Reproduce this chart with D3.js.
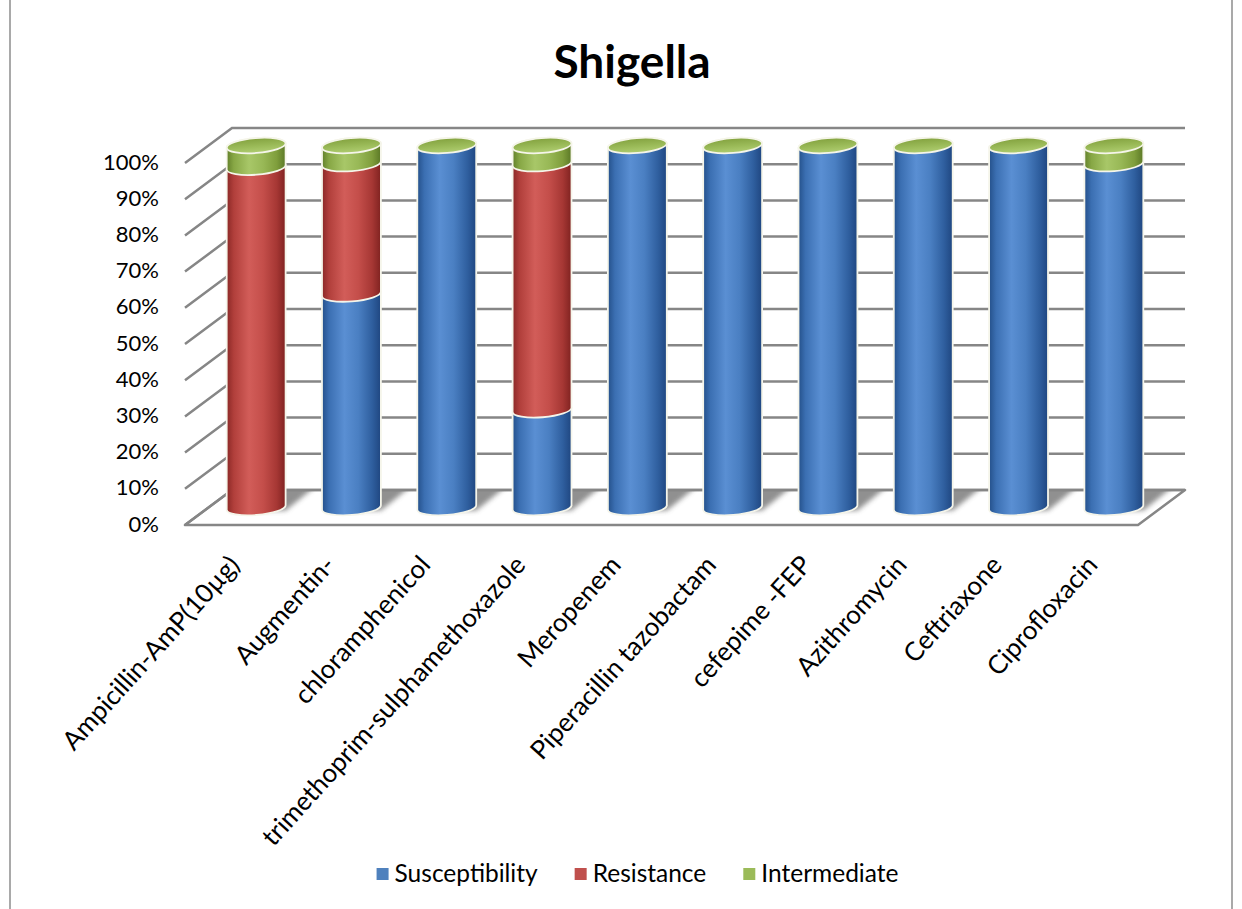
<!DOCTYPE html>
<html>
<head>
<meta charset="utf-8">
<script src="https://cdn.jsdelivr.net/npm/d3@7"></script>
<style>
  body { margin: 0; background: #fff; }
  svg { display: block; }
  text { font-family: Lato, "Open Sans", sans-serif; fill: #000; }
</style>
</head>
<body>
<svg id="chart" width="1242" height="909"></svg>
<script>
// ---- data ----
const categories = [
  "Ampicillin-AmP(10µg)", "Augmentin-", "chloramphenicol",
  "trimethoprim-sulphamethoxazole", "Meropenem", "Piperacillin tazobactam",
  "cefepime -FEP", "Azithromycin", "Ceftriaxone", "Ciprofloxacin"
];
const seriesNames = ["Susceptibility", "Resistance", "Intermediate"];
const susceptibility = [0, 59, 100, 27, 100, 100, 100, 100, 100, 95];
const resistance     = [94, 36, 0, 68, 0, 0, 0, 0, 0, 0];
const intermediate   = [6, 5, 0, 5, 0, 0, 0, 0, 0, 5];
const yTicks = [0, 10, 20, 30, 40, 50, 60, 70, 80, 90, 100];
const tickLabels = yTicks.map(v => v + "%");
const chartTitle = "Shigella";

// ---- layout ----
const W = 1242, H = 909;
const svg = d3.select("#chart");
const DX = 47, DY = -35;              // depth offset front -> back wall
const floorLeft = 185, floorRight = 1138;

const rows = categories.map((c, i) => ({
  category: c,
  Susceptibility: susceptibility[i],
  Resistance: resistance[i],
  Intermediate: intermediate[i]
}));
const stacked = d3.stack().keys(seriesNames)(rows);

const x = d3.scaleBand().domain(categories).range([floorLeft, floorRight]);
const yFront = d3.scaleLinear().domain([0, 100]).range([525, 163]);
const color = d3.scaleOrdinal().domain(seriesNames).range(["#4F81BD", "#C0504D", "#9BBB59"]);

// centre of a cylinder, halfway into the depth
const midX = c => x(c) + x.bandwidth() / 2 + DX / 2;
const midY = v => yFront(v) + DY / 2;

const defs = svg.append("defs");

// body shading: dark rims, bright band left of centre
const bodyStops = {
  Susceptibility: ["#24508a", "#3b6fb2", "#5a8fd3", "#4a7fc2", "#2f5f9f", "#1f4680"],
  Resistance:     ["#8a2826", "#b13f3b", "#d25d59", "#c44e4a", "#a63734", "#7f2220"],
  Intermediate:   ["#62802a", "#87a745", "#a8c768", "#98b856", "#7f9e3c", "#5b7826"]
};
const offsets = [0, 0.12, 0.38, 0.62, 0.85, 1];
seriesNames.forEach((s, k) => {
  const g = defs.append("linearGradient").attr("id", "body" + k)
    .attr("x1", 0).attr("x2", 1).attr("y1", 0).attr("y2", 0);
  bodyStops[s].forEach((c, j) => g.append("stop").attr("offset", offsets[j]).attr("stop-color", c));
});
const capGrad = defs.append("linearGradient").attr("id", "cap")
  .attr("x1", 0).attr("x2", 0).attr("y1", 0).attr("y2", 1);
capGrad.append("stop").attr("offset", 0).attr("stop-color", "#83a23f");
capGrad.append("stop").attr("offset", 0.6).attr("stop-color", "#9dbd5b");
capGrad.append("stop").attr("offset", 1).attr("stop-color", "#b0cd72");

defs.append("filter").attr("id", "soft").attr("x", "-30%").attr("y", "-30%")
  .attr("width", "160%").attr("height", "160%")
  .append("feGaussianBlur").attr("stdDeviation", 2.5);

const floorPts = [
  [floorLeft, yFront(0)], [floorRight, yFront(0)],
  [floorRight + DX, yFront(0) + DY], [floorLeft + DX, yFront(0) + DY]
];
defs.append("clipPath").attr("id", "floorClip")
  .append("polygon").attr("points", floorPts.map(p => p.join(",")).join(" "));

// ---- outer frame ----
svg.append("line").attr("x1", 10).attr("x2", 10).attr("y1", 0).attr("y2", H)
  .attr("stroke", "#8c8c8c").attr("stroke-width", 1.5);
svg.append("line").attr("x1", 1232).attr("x2", 1232).attr("y1", 0).attr("y2", H)
  .attr("stroke", "#8c8c8c").attr("stroke-width", 1.5);

// ---- title ----
svg.append("text").attr("x", 632).attr("y", 78).attr("text-anchor", "middle")
  .attr("font-size", 46).attr("font-weight", 700).text(chartTitle);

// ---- floor ----
svg.append("polygon").attr("points", floorPts.map(p => p.join(",")).join(" "))
  .attr("fill", "#fff").attr("stroke", "#868686").attr("stroke-width", 2.5)
  .attr("stroke-linejoin", "round");

// floor shadows cast by the cylinders
const rx = x.bandwidth() * 0.31, ry = 7.5;
svg.append("g").attr("clip-path", "url(#floorClip)")
  .selectAll("polygon").data(categories).join("polygon")
  .attr("points", c => {
    const cx = midX(c), cy = midY(0);
    return [[cx - rx + 4, cy + 3], [cx + rx, cy + 3],
            [cx + rx + DX, cy + DY], [cx - rx + 4 + DX, cy + DY]]
      .map(p => p.join(",")).join(" ");
  })
  .attr("fill", "#7d7d7d").attr("opacity", 0.85).attr("filter", "url(#soft)");

// ---- grid: side-wall diagonals + back-wall lines ----
svg.append("g").selectAll("path").data(yTicks).join("path")
  .attr("d", t => {
    const y0 = yFront(t);
    return `M${floorLeft},${y0}L${floorLeft + DX},${y0 + DY}L${floorRight + DX},${y0 + DY}`;
  })
  .attr("fill", "none").attr("stroke", "#868686").attr("stroke-width", 2.5);

// ---- y tick labels ----
svg.append("g").selectAll("text").data(yTicks).join("text")
  .attr("x", 159).attr("y", t => yFront(t) + 1)
  .attr("text-anchor", "end").attr("dominant-baseline", "middle")
  .attr("font-size", 22).text((t, i) => tickLabels[i]);

// ---- cylinders ----
const phiDeg = -4.5, phi = phiDeg * Math.PI / 180;
const ex = rx * Math.cos(phi), ey = rx * Math.sin(phi);
function bodyPath(cx, yTop, yBot) {
  return `M${cx - ex},${yTop - ey}` +
         `L${cx - ex},${yBot - ey}` +
         `A${rx},${ry} ${phiDeg} 0 0 ${cx + ex},${yBot + ey}` +
         `L${cx + ex},${yTop + ey}` +
         `A${rx},${ry} ${phiDeg} 0 0 ${cx - ex},${yTop - ey}Z`;
}

const cyl = svg.append("g").selectAll("g").data(categories).join("g");
// one segment per non-empty series, drawn bottom to top
cyl.selectAll("path")
  .data((c, i) => stacked
    .map((layer, k) => ({ c, k, v0: layer[i][0], v1: layer[i][1] }))
    .filter(d => d.v1 > d.v0))
  .join("path")
  .attr("d", d => bodyPath(midX(d.c), midY(d.v1), midY(d.v0)))
  .attr("fill", d => `url(#body${d.k})`)
  .attr("stroke", "#f5f5ea").attr("stroke-width", 1.8);

// top cap takes the colour of the uppermost series
const topLayer = stacked[stacked.length - 1];
cyl.append("ellipse")
  .attr("cx", c => midX(c)).attr("cy", (c, i) => midY(topLayer[i][1]))
  .attr("rx", rx).attr("ry", ry)
  .attr("transform", (c, i) => `rotate(${phiDeg},${midX(c)},${midY(topLayer[i][1])})`)
  .attr("fill", "url(#cap)").attr("stroke", "#f5f5ea").attr("stroke-width", 1.8);

// ---- category labels ----
svg.append("g").selectAll("text").data(categories).join("text")
  .attr("transform", c => `translate(${midX(c) - 15},${566}) rotate(-48)`)
  .attr("text-anchor", "end").attr("font-size", 26).text(c => c);

// ---- legend ----
const legend = svg.append("g");
const items = legend.selectAll("g").data(seriesNames).join("g");
items.append("rect").attr("width", 12).attr("height", 12).attr("y", -14)
  .attr("fill", s => color(s));
items.append("text").attr("x", 18).attr("font-size", 24.5).text(s => s);
let cursor = 0;
items.each(function () {
  const w = d3.select(this).select("text").node().getComputedTextLength();
  d3.select(this).attr("transform", `translate(${cursor},0)`);
  cursor += 18 + w + 37;
});
const legendWidth = cursor - 37;
legend.attr("transform", `translate(${637.5 - legendWidth / 2},${882})`);
</script>
</body>
</html>
